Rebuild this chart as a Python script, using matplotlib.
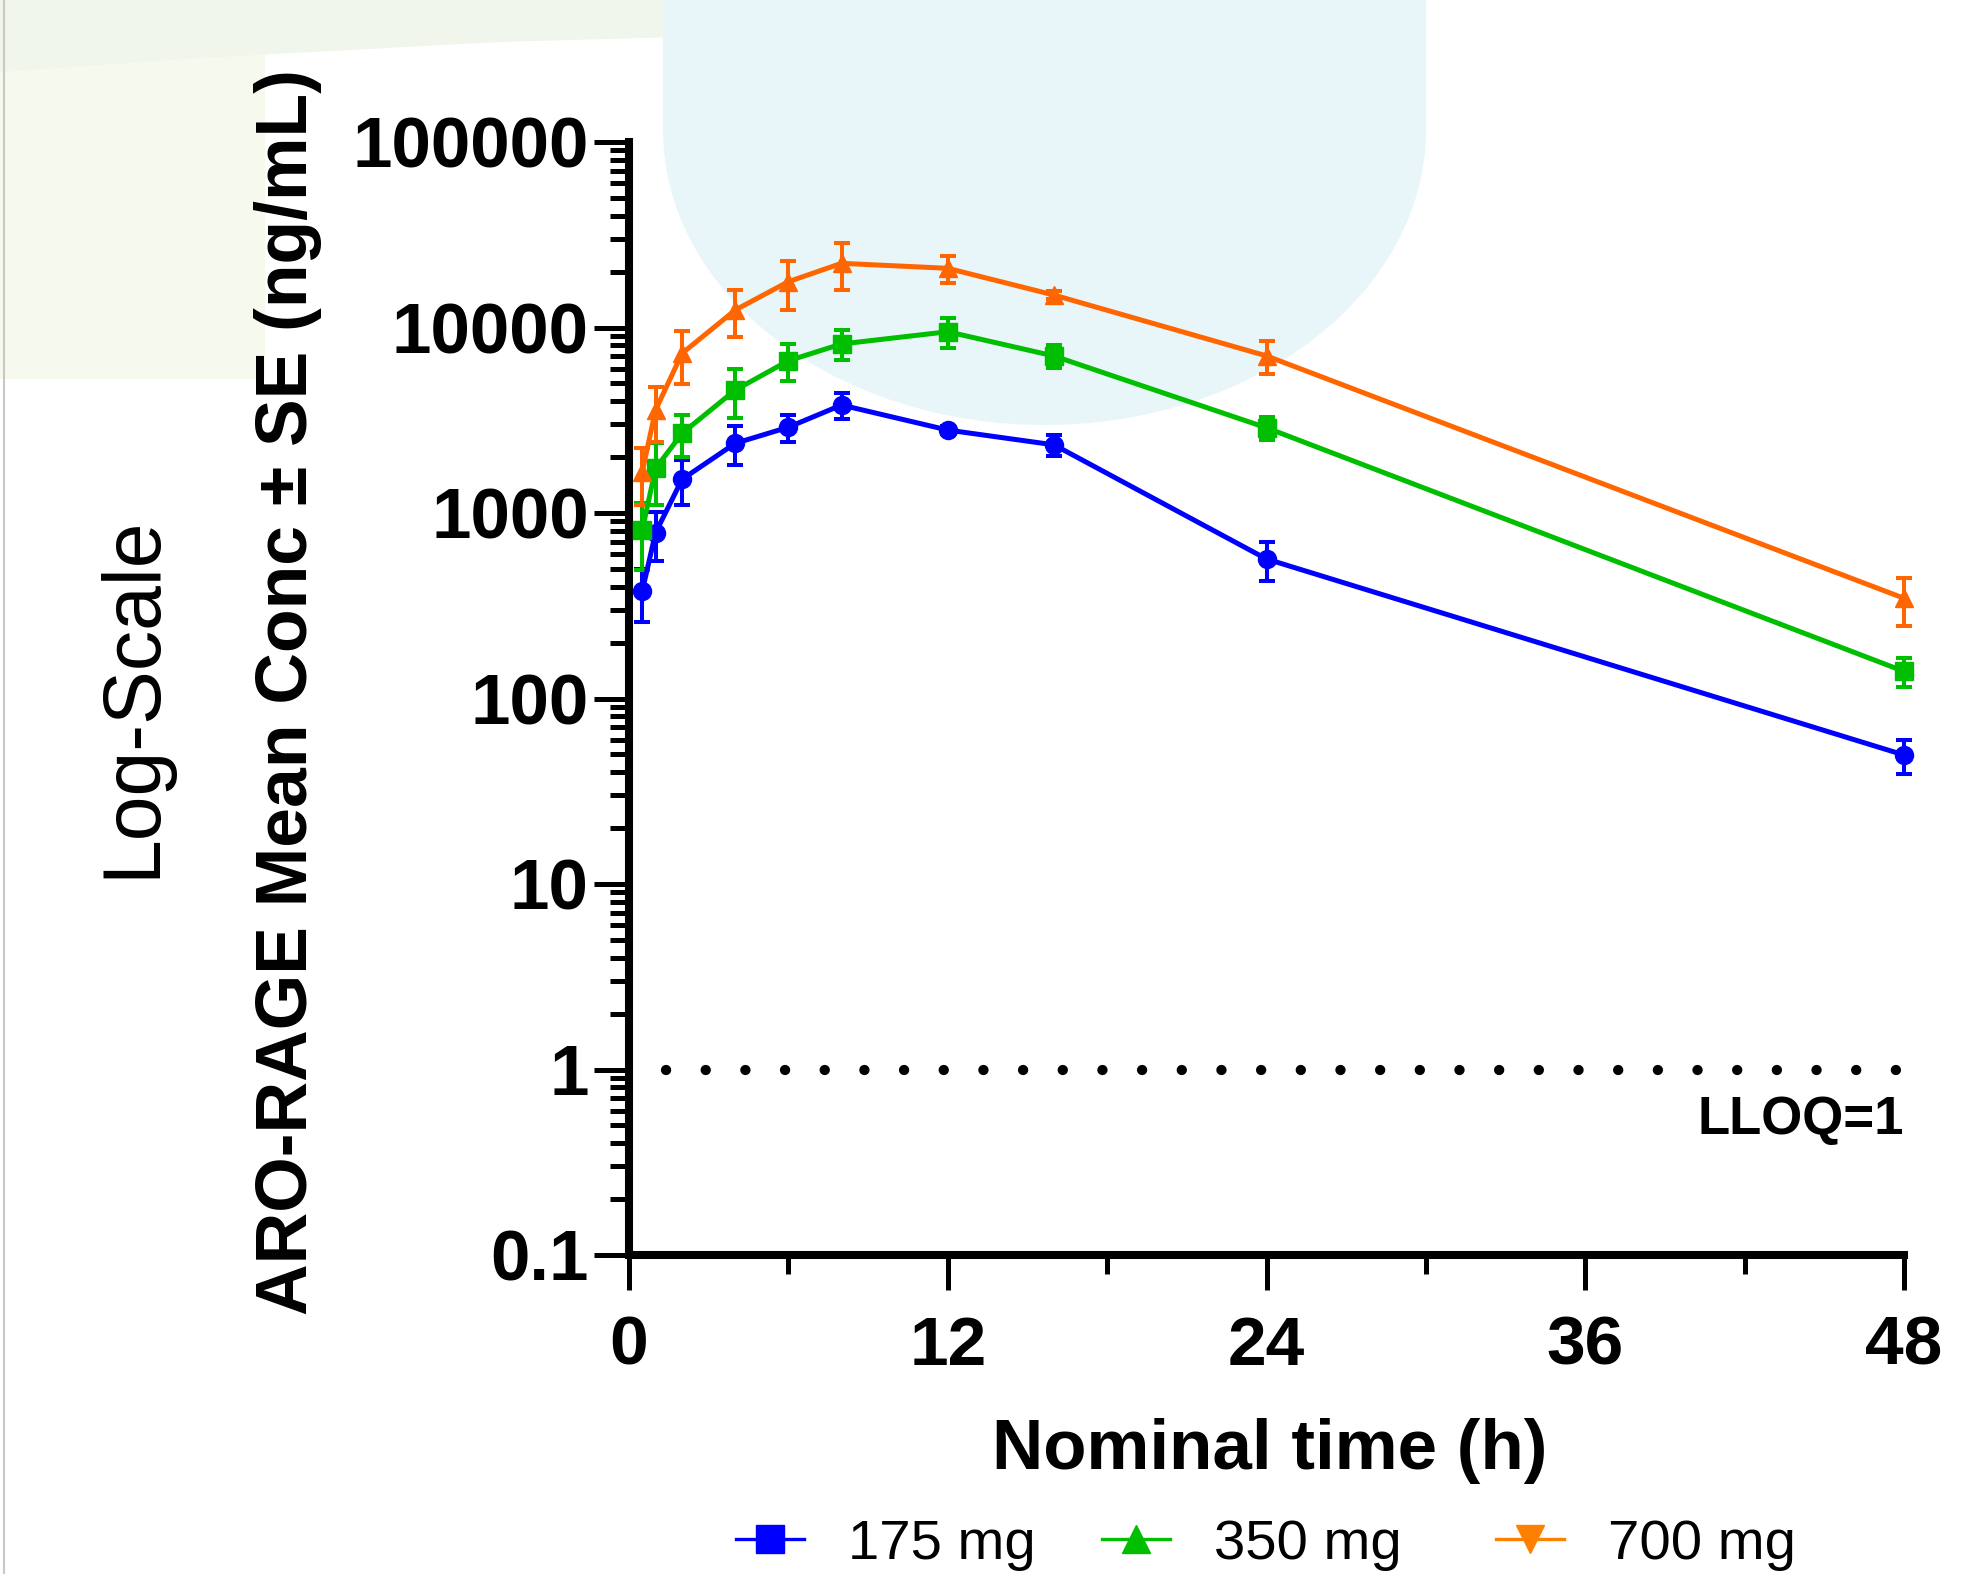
import matplotlib
matplotlib.use("Agg")
import matplotlib.pyplot as plt
import numpy as np
from matplotlib.lines import Line2D
from matplotlib.patches import Rectangle, Ellipse, Polygon

plt.rcParams['font.family'] = ['Liberation Sans', 'DejaVu Sans']

# ---------------- data ----------------
times = [0.5, 1, 2, 4, 6, 8, 12, 16, 24, 48]

mean_175 = [380, 783, 1520, 2375, 2900, 3820, 2800, 2330, 565, 49.6]
se_175 = [120, 235, 420, 570, 490, 620, 150, 300, 135, 10.5]

mean_350 = [810, 1740, 2690, 4600, 6620, 8150, 9490, 7020, 2880, 140]
se_350 = [320, 630, 680, 1350, 1500, 1500, 1700, 1000, 400, 25]

mean_700 = [1670, 3590, 7260, 12420, 17660, 22180, 20850, 14960, 7030, 347]
se_700 = [570, 1170, 2300, 3500, 5300, 6200, 3400, 800, 1400, 100]

dose_labels = ["175 mg", "350 mg", "700 mg"]
y_ticks = [0.1, 1, 10, 100, 1000, 10000, 100000]
y_tick_labels = ["0.1", "1", "10", "100", "1000", "10000", "100000"]
x_ticks = [0, 12, 24, 36, 48]
x_minor_ticks = [6, 18, 30, 42]
lloq = 1

# ---------------- figure ----------------
W, H = 1979, 1574
fig = plt.figure(figsize=(W / 100, H / 100), dpi=100)

# background decoration
bg = fig.add_axes([0, 0, 1, 1], zorder=-10)
bg.set_xlim(0, W)
bg.set_ylim(H, 0)
bg.axis('off')
bg.add_patch(Rectangle((0, 0), 265, 379, color='#F6F9EE', lw=0))
band = np.array([[0, 0], [1426, 0], [1426, 15], [1000, 28], [500, 42], [200, 58], [0, 72]])
bg.add_patch(Polygon(band, closed=True, color='#F0F6EC', lw=0))
bg.add_patch(Rectangle((663, 0), 763, 130, color='#E8F6FA', lw=0))
bg.add_patch(Ellipse((1044.5, 130), 763, 590, color='#E8F6FA', lw=0))
bg.plot([4, 4], [0, H], color='#C8C8C8', lw=1.5)

ax = fig.add_axes([629 / W, 1 - 1255 / H, (1904 - 629) / W, (1255 - 142) / H])
ax.patch.set_alpha(0)

series = [
    (mean_175, se_175, '#0000FF', 'o'),
    (mean_350, se_350, '#00BE00', 's'),
    (mean_700, se_700, '#FF6600', '^'),
]
for m, s, c, mk in series:
    ax.errorbar(times, m, yerr=s, fmt='-', marker=mk, color=c, lw=3.6,
                markersize=13, elinewidth=2.9, capsize=6, capthick=2.9,
                clip_on=False, zorder=3)

# LLOQ dotted line
ax.plot([1.4, 48], [lloq, lloq], color='black', lw=7.4,
        linestyle=(0, (0.01, 3.85)), dash_capstyle='round', zorder=2)
ax.text(48, 0.537, "LLOQ=1", ha='right', va='center', fontsize=38,
        fontweight='bold')

ax.set_yscale('log')
ax.set_ylim(0.1, 100000)
ax.set_xlim(0, 48)
ax.set_yticks(y_ticks)
ax.set_yticklabels(y_tick_labels)
ax.yaxis.set_minor_locator(matplotlib.ticker.LogLocator(base=10, subs=np.arange(2, 10), numticks=20))
ax.yaxis.set_minor_formatter(matplotlib.ticker.NullFormatter())
ax.set_xticks(x_ticks)
ax.set_xticks(x_minor_ticks, minor=True)

for sp in ['top', 'right']:
    ax.spines[sp].set_visible(False)
for sp in ['left', 'bottom']:
    ax.spines[sp].set_linewidth(5.8)

ax.tick_params(axis='both', which='major', length=25, width=3.6, direction='out')
ax.tick_params(axis='both', which='minor', length=14, width=3.6, direction='out')
ax.tick_params(axis='y', which='major', pad=4, labelsize=51)
ax.tick_params(axis='x', which='major', pad=18, labelsize=50)
for lab in ax.get_xticklabels() + ax.get_yticklabels():
    lab.set_fontweight('bold')

# axis labels
fig.text(1270 / W, 1 - 1451 / H, "Nominal time (h)", ha='center', va='center',
         fontsize=51, fontweight='bold')
fig.text(288 / W, 1 - 692 / H, "ARO-RAGE Mean Conc ± SE (ng/mL)", ha='center',
         va='center', rotation=90, fontsize=51.5, fontweight='bold')
fig.text(133 / W, 1 - 697 / H, "Log-Scale", ha='center', va='center',
         rotation=90, fontsize=58)

# legend (one entry per legend to reproduce the uneven spacing)
handles = [
    Line2D([], [], color='#0000FF', marker='s', lw=2.4, markersize=20),
    Line2D([], [], color='#00BE00', marker='^', lw=2.4, markersize=20),
    Line2D([], [], color='#FF8000', marker='v', lw=2.4, markersize=20),
]
legend_x = [736, 1102, 1496]
for h, lab, lx in zip(handles, dose_labels, legend_x):
    leg = fig.legend([h], [lab], loc='center left', bbox_to_anchor=(lx / W, 1 - 1545 / H),
                     frameon=False, fontsize=40.5, handlelength=1.2, handletextpad=0.8,
                     borderpad=0, borderaxespad=0)

fig.savefig("out.png", dpi=100)
